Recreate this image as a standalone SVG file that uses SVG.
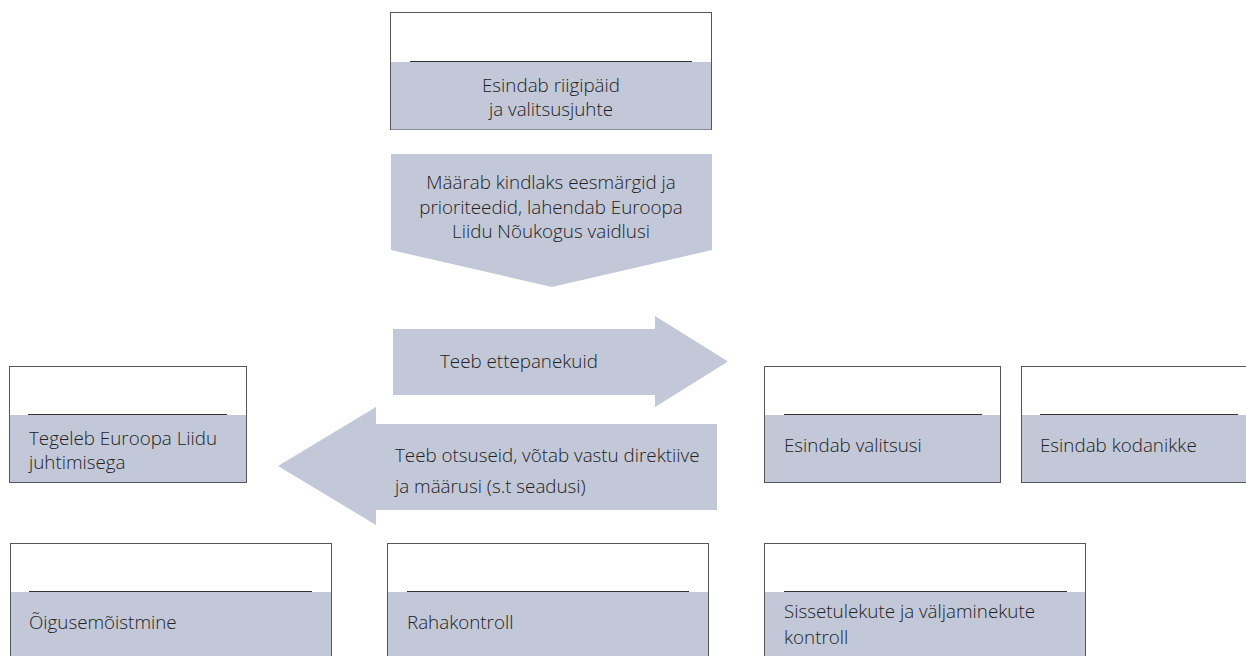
<svg xmlns="http://www.w3.org/2000/svg" width="1246" height="656" viewBox="0 0 1246 656">
<style>
.box{fill:#ffffff;stroke:#555;stroke-width:1}
.band{fill:#c3c8d8}
.sep{stroke:#333;stroke-width:1}
.shape{fill:#c3c8d8}
text{font-family:"Open Sans","Liberation Sans",sans-serif;font-size:18.8px;fill:#222;font-weight:300}
.c{text-anchor:middle}
</style>
<rect width="1246" height="656" fill="#ffffff"/>
<g id="connectors">
<g id="arrow-down">
<polygon class="shape" points="391,154 712,154 712,250 552,287 391,250"/>
<text class="c" x="551" y="189">Määrab kindlaks eesmärgid ja</text>
<text class="c" x="551" y="213.5">prioriteedid, lahendab Euroopa</text>
<text class="c" x="551" y="238">Liidu Nõukogus vaidlusi</text>
</g>
<g id="arrow-right">
<polygon class="shape" points="393,329 655,329 655,316 728,361.5 655,407 655,395 393,395"/>
<text x="440" y="368">Teeb ettepanekuid</text>
</g>
<g id="arrow-left">
<polygon class="shape" points="717,424 376,424 376,407 278,466 376,525 376,510 717,510"/>
<text x="395" y="462">Teeb otsuseid, võtab vastu direktiive</text>
<text x="395" y="493">ja määrusi (s.t seadusi)</text>
</g>
</g>
<g id="node-top">
<rect class="box" x="390.5" y="12.5" width="321" height="117"/>
<rect class="band" x="391" y="62" width="320" height="67.5"/>
<line class="sep" x1="410" y1="61.5" x2="692" y2="61.5"/>
<text class="c" x="551" y="92">Esindab riigipäid</text>
<text class="c" x="551" y="116">ja valitsusjuhte</text>
</g>
<g id="node-left">
<rect class="box" x="9.5" y="366.5" width="237" height="116"/>
<rect class="band" x="10" y="415" width="236" height="67"/>
<line class="sep" x1="28" y1="414.5" x2="227" y2="414.5"/>
<text x="29" y="445">Tegeleb Euroopa Liidu</text>
<text x="29" y="469">juhtimisega</text>
</g>
<g id="node-valitsusi">
<rect class="box" x="764.5" y="366.5" width="236" height="116"/>
<rect class="band" x="765" y="415" width="235" height="67"/>
<line class="sep" x1="784" y1="414.5" x2="982" y2="414.5"/>
<text x="784" y="452">Esindab valitsusi</text>
</g>
<g id="node-kodanikke">
<rect class="box" x="1021.5" y="366.5" width="240" height="116"/>
<rect class="band" x="1022" y="415" width="239" height="67"/>
<line class="sep" x1="1040" y1="414.5" x2="1238" y2="414.5"/>
<text x="1040" y="452">Esindab kodanikke</text>
</g>
<g id="node-oigus">
<rect class="box" x="10.5" y="543.5" width="321" height="130"/>
<rect class="band" x="11" y="592" width="320" height="80"/>
<line class="sep" x1="29" y1="591.5" x2="312" y2="591.5"/>
<text x="29" y="629">Õigusemõistmine</text>
</g>
<g id="node-raha">
<rect class="box" x="387.5" y="543.5" width="321" height="130"/>
<rect class="band" x="388" y="592" width="320" height="80"/>
<line class="sep" x1="407" y1="591.5" x2="689" y2="591.5"/>
<text x="407" y="629">Rahakontroll</text>
</g>
<g id="node-sissetulekud">
<rect class="box" x="764.5" y="543.5" width="321" height="130"/>
<rect class="band" x="765" y="592" width="320" height="80"/>
<line class="sep" x1="784" y1="591.5" x2="1067" y2="591.5"/>
<text x="784" y="618">Sissetulekute ja väljaminekute</text>
<text x="784" y="644">kontroll</text>
</g>
</svg>
